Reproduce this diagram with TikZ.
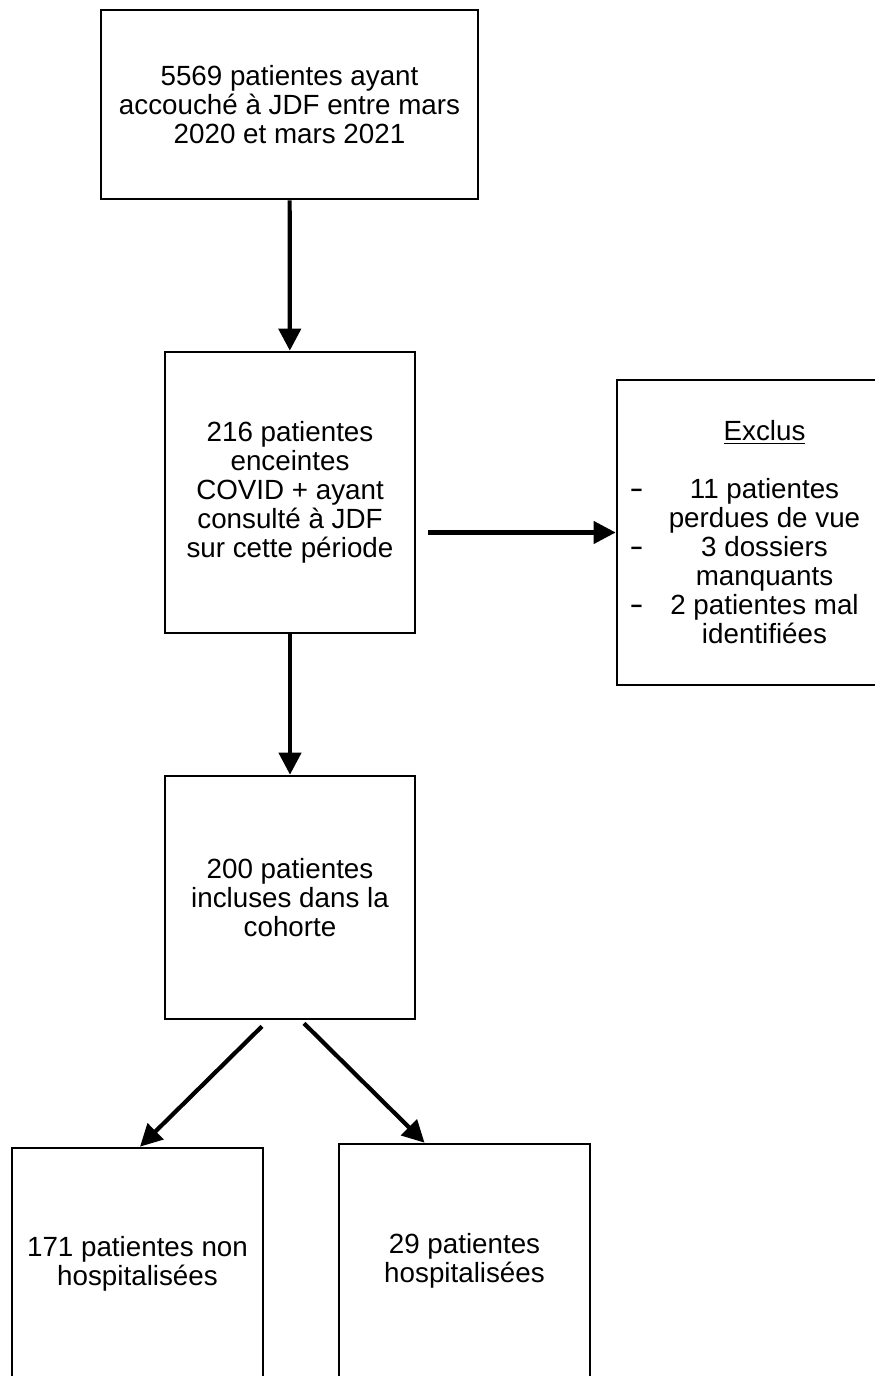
\documentclass[tikz,border=0pt]{standalone}
\usepackage{fontspec}
\usepackage{graphicx}
\setmainfont{Liberation Sans}
\usetikzlibrary{arrows.meta}

\newcommand{\tiret}[1]{\makebox[5.9cm]{\rlap{\hspace{0.25cm}\scalebox{1.5}[1.1]{-}}\hfill #1\hfill}}

\begin{document}
\begin{tikzpicture}[
    boite/.style ={rectangle, draw, line width=1.5pt, inner sep=0pt, align=center,
                   font=\fontsize{15.8}{16.5}\selectfont},
    fleche/.style ={line width=2.4pt, -{Triangle[length=0.44cm,width=0.44cm]}}]
   \useasboundingbox (0,0) rectangle (17.5,-27.52);
   \clip (0,0) rectangle (17.5,-27.52);

   \node[boite, minimum width=7.54cm, minimum height=3.78cm] (depart) at (5.79,-2.09)
        {5569 patientes ayant\\accouché à JDF entre mars\\2020 et mars 2021};
   \node[boite, minimum width=5cm, minimum height=5.62cm] (covid) at (5.80,-9.85)
        {216 patientes\\enceintes\\COVID + ayant\\consulté à JDF\\sur cette période};
   \node[boite, minimum width=5.9cm, minimum height=6.1cm] (exclus) at (15.29,-10.65)
        {\underline{Exclus}\\ \\
         \tiret{11 patientes}\\ perdues de vue\\
         \tiret{3 dossiers}\\ manquants\\
         \tiret{2 patientes mal}\\ identifiées};
   \node[boite, minimum width=5cm, minimum height=4.86cm] (cohorte) at (5.80,-17.95)
        {200 patientes\\incluses dans la\\cohorte};
   \node[boite, minimum width=5.02cm, minimum height=4.64cm] (nonhosp) at (2.75,-25.28)
        {171 patientes non\\hospitalisées};
   \node[boite, minimum width=5.02cm, minimum height=4.68cm] (hosp) at (9.29,-25.22)
        {29 patientes\\hospitalisées};

   \draw[fleche] (depart) to (covid);
   \draw[fleche] ([xshift=0.24cm]covid.east |- exclus.west) to (exclus.west);
   \draw[fleche] (covid) to (cohorte);
   \draw[fleche] ([shift={(-0.56,-0.12)}]cohorte.south) to ([xshift=0.05cm]nonhosp.north);
   \draw[fleche] ([shift={(0.28,-0.06)}]cohorte.south) to ([xshift=-0.8cm]hosp.north);
 \end{tikzpicture}
\end{document}
